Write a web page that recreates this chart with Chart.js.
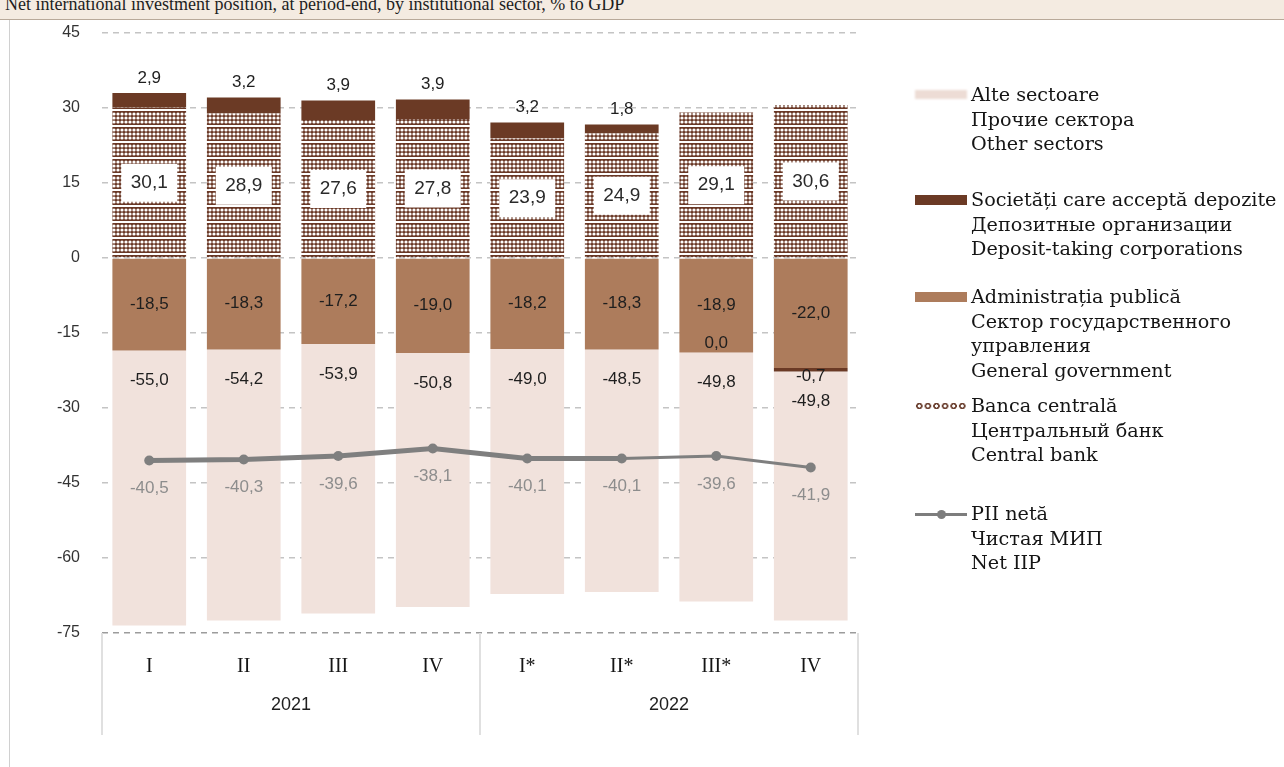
<!DOCTYPE html>
<html lang="ro">
  <head>
    <meta charset="UTF-8" />
    <title>PII netă pe sectoare instituționale</title>
    <script src="https://cdn.jsdelivr.net/npm/chart.js"></script>
    <style>
      body { margin: 0; background: #fff; }
      #wrap { position: relative; width: 1284px; height: 767px; overflow: hidden; }
      #head {
        position: absolute; left: 0; top: 0; width: 1284px; height: 19px;
        background: #f4ebe1; border-bottom: 1px solid #b8a999; overflow: hidden;
      }
      #head span {
        position: absolute; left: 5px; top: -6px; white-space: nowrap;
        font: 18px "Liberation Serif", serif; color: #1e1e1e;
      }
      #frame { position: absolute; left: 9px; top: 20px; width: 1px; height: 747px; background: #d0d0d0; }
      #chartBox { position: absolute; left: 0; top: 0; width: 1284px; height: 767px; }
      .lg { position: absolute; left: 971px; font: 19.2px/24.5px "DejaVu Serif", serif; color: #151515; white-space: nowrap; }
      .mk { position: absolute; left: 915px; width: 52px; }
    </style>
  </head>
  <body>
    <div id="wrap">
      <div id="chartBox"><canvas id="iipChart"></canvas></div>
      <div id="head"><span>Net international investment position, at period-end, by institutional sector, % to GDP</span></div>
      <div id="frame"></div>

      <!-- legenda -->
      <div class="mk" style="top:90px;height:9px;background:#eddcd5;filter:blur(1px)"></div>
      <div class="lg" style="top:83px">Alte sectoare<br />Прочие сектора<br />Other sectors</div>

      <div class="mk" style="top:195px;height:10px;background:#6b3a25"></div>
      <div class="lg" style="top:188px">Societăți care acceptă depozite<br />Депозитные организации<br />Deposit-taking corporations</div>

      <div class="mk" style="top:292px;height:10px;background:#ad7c5c"></div>
      <div class="lg" style="top:285px">Administrația publică<br />Сектор государственного<br />управления<br />General government</div>

      <div class="mk" style="top:402px;height:8px;background:radial-gradient(circle, #fff 0 1.4px, #6b4030 1.8px 3px, #fff 3.4px);background-size:8.6px 8px"></div>
      <div class="lg" style="top:394px">Banca centrală<br />Центральный банк<br />Central bank</div>

      <div class="mk" style="top:513px;height:3px;background:#7d7d7d"></div>
      <div style="position:absolute;left:937px;top:510px;width:9px;height:9px;border-radius:50%;background:#7d7d7d"></div>
      <div class="lg" style="top:502px">PII netă<br />Чистая МИП<br />Net IIP</div>
    </div>

    <script>
      // date (% din PIB)
      const quarters = ["I", "II", "III", "IV", "I*", "II*", "III*", "IV"];
      const years = ["2021", "2022"];
      const otherSectors = [-55.0, -54.2, -53.9, -50.8, -49.0, -48.5, -49.8, -49.8];
      const depositTaking = [2.9, 3.2, 3.9, 3.9, 3.2, 1.8, 0.0, -0.7];
      const generalGov = [-18.5, -18.3, -17.2, -19.0, -18.2, -18.3, -18.9, -22.0];
      const centralBank = [30.1, 28.9, 27.6, 27.8, 23.9, 24.9, 29.1, 30.6];
      const netIIP = [-40.5, -40.3, -39.6, -38.1, -40.1, -40.1, -39.6, -41.9];
      const yMin = -75, yMax = 45, yStep = 15;

      const fmt = (v) => v.toFixed(1).replace(".", ",");

      const canvas = document.getElementById("iipChart");
      const ctx = canvas.getContext("2d");

      // hasura punctata pentru banca centrala (puncte + dungi orizontale)
      function dotPattern() {
        const c = document.createElement("canvas");
        c.width = 4;
        c.height = 16;
        const g = c.getContext("2d");
        g.fillStyle = "#6a3826";
        g.fillRect(0, 0, 4, 16);
        g.fillStyle = "#ffffff";
        for (let r = 0; r < 3; r++) {
          g.beginPath();
          g.arc(2, 2 + r * 4, 1.6, 0, Math.PI * 2);
          g.fill();
        }
        g.fillRect(0, 13, 4, 2);
        return ctx.createPattern(c, "repeat");
      }

      // etichete valori
      const valueLabels = {
        id: "valueLabels",
        afterDatasetsDraw(chart) {
          const { ctx, scales: { x, y } } = chart;
          ctx.save();
          ctx.textAlign = "center";
          ctx.textBaseline = "middle";
          quarters.forEach((q, i) => {
            const cx = x.getPixelForValue(i);
            const cb = centralBank[i], dep = depositTaking[i], gov = generalGov[i];

            // banca centrala, in caseta alba
            const cy = y.getPixelForValue(cb / 2);
            ctx.fillStyle = "#fff";
            ctx.fillRect(cx - 28, cy - 19, 56, 38);
            ctx.font = '19px "Liberation Sans", sans-serif';
            ctx.fillStyle = "#2a2a2a";
            ctx.fillText(fmt(cb), cx, cy);

            ctx.font = '17px "Liberation Sans", sans-serif';
            ctx.fillStyle = "#1e1e1e";
            // societati care accepta depozite
            if (dep > 0) {
              ctx.fillText(fmt(dep), cx, y.getPixelForValue(cb + dep) - 15);
            } else {
              ctx.fillText(fmt(dep), cx, y.getPixelForValue(gov + dep) + (dep < 0 ? 5 : -9));
            }
            // administratia publica
            ctx.fillText(fmt(gov), cx, y.getPixelForValue(gov / 2));
            // alte sectoare
            ctx.fillText(fmt(otherSectors[i]), cx, y.getPixelForValue(gov + Math.min(dep, 0)) + 30);
            // PII neta
            ctx.fillStyle = "#8d8d8d";
            ctx.fillText(fmt(netIIP[i]), cx, y.getPixelForValue(netIIP[i]) + 28);
          });
          ctx.restore();
        },
        afterDraw(chart) {
          const { ctx, scales: { x, y } } = chart;
          ctx.save();
          // separatoare ani
          const mid = (x.getPixelForValue(3) + x.getPixelForValue(4)) / 2;
          ctx.strokeStyle = "#e0e0e0";
          ctx.lineWidth = 2;
          [x.left, mid, x.right].forEach((px) => {
            ctx.beginPath();
            ctx.moveTo(px, y.bottom);
            ctx.lineTo(px, y.bottom + 102);
            ctx.stroke();
          });
          ctx.font = '18px "Liberation Sans", sans-serif';
          ctx.fillStyle = "#1e1e1e";
          ctx.textAlign = "center";
          ctx.textBaseline = "middle";
          years.forEach((yr, k) => {
            const c = (x.getPixelForValue(k * 4) + x.getPixelForValue(k * 4 + 3)) / 2;
            ctx.fillText(yr, c, y.bottom + 72);
          });
          ctx.restore();
        },
      };

      const barBase = { type: "bar", stack: "s", order: 1, barPercentage: 0.78, categoryPercentage: 1 };

      new Chart(canvas, {
        data: {
          labels: quarters,
          datasets: [
            {
              type: "line",
              label: "PII netă",
              data: netIIP,
              stack: "net",
              order: 0,
              borderColor: "#7f7f7f",
              backgroundColor: "#7f7f7f",
              borderWidth: 5,
              pointRadius: 5,
              pointBorderWidth: 0,
              tension: 0,
              segment: { borderWidth: (c) => (c.p0DataIndex >= 5 ? 3 : 5) },
            },
            { ...barBase, label: "Administrația publică", data: generalGov, backgroundColor: "#ad7c5c" },
            { ...barBase, label: "Banca centrală", data: centralBank, backgroundColor: dotPattern() },
            { ...barBase, label: "Societăți care acceptă depozite", data: depositTaking, backgroundColor: "#6b3a25" },
            { ...barBase, label: "Alte sectoare", data: otherSectors, backgroundColor: "#f1e2dc" },
          ],
        },
        options: {
          responsive: true,
          maintainAspectRatio: false,
          animation: false,
          layout: { padding: { left: 0, top: 33, right: 426, bottom: 0 } },
          plugins: { legend: { display: false }, tooltip: { enabled: false } },
          scales: {
            x: {
              stacked: true,
              offset: true,
              grid: { display: false },
              border: { display: false },
              ticks: { color: "#151515", padding: 14, font: { family: "Liberation Serif", size: 20 } },
              afterFit: (s) => { s.height = 134; },
            },
            y: {
              stacked: true,
              min: yMin,
              max: yMax,
              border: { display: false, dash: [6, 5] },
              grid: {
                drawTicks: false,
                lineWidth: 1.5,
                color: (c) => (c.tick && c.tick.value === yMin ? "#9c9c9c" : "#c4c4c4"),
              },
              ticks: {
                stepSize: yStep,
                padding: 22,
                color: "#333",
                font: { family: "Liberation Sans", size: 16 },
              },
              afterFit: (s) => { s.width = 102; },
            },
          },
        },
        plugins: [valueLabels],
      });
    </script>
  </body>
</html>
